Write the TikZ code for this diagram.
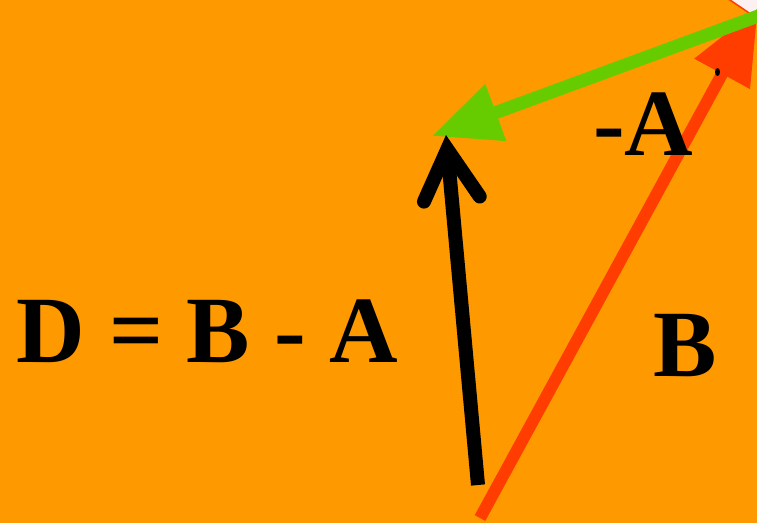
\documentclass[tikz,border=0pt]{standalone}
\usepackage{fontspec}
\setmainfont{Liberation Serif}
\usetikzlibrary{arrows.meta}
\definecolor{bgorange}{RGB}{255,153,0}
\definecolor{vecgreen}{RGB}{102,204,0}
\definecolor{vecred}{RGB}{255,61,0}
\definecolor{paper}{RGB}{252,240,240}
\tikzset{
  green vec/.style={-{Triangle[length=68pt,width=57pt]},line width=13pt,draw=vecgreen},
  red vec/.style={-{Triangle[length=75pt,width=60pt]},line width=12pt,draw=vecred},
  black vec/.style={-{Straight Barb[length=50pt,width=56pt,line cap=round,line join=miter]},line width=14pt,draw=black},
  biglabel/.style={font=\fontsize{95}{110}\selectfont\bfseries,anchor=base west,inner sep=0pt}
}

\begin{document}
\begin{tikzpicture}[x=1pt,y=-1pt]
  \useasboundingbox (0,0) rectangle (757,523);
  \fill[bgorange] (0,0) rectangle (757,523);

  % corner of the sheet behind
  \filldraw[fill=paper,draw=vecred,line width=1.5pt] (727,-2) -- (764,23) -- (764,-2) -- cycle;

  \coordinate (btail) at (480,518);
  \coordinate (btip) at (758,8);
  \coordinate (atail) at (780,8);
  \coordinate (atip) at (432,136);
  \coordinate (dtail) at (478,485);
  \coordinate (dtip) at (446,135);

  \draw[red vec] (btail) -- (btip);
  \fill[black] (717.5,72) ellipse (2.5 and 4);
  \draw[green vec] (atail) -- (atip);
  \draw[black vec] (dtail) -- (dtip);

  \node[biglabel] (eq) at (16.5,362) {D = B{} - A};
  \node[biglabel] (minusa) at (593,155) {-A};
  \node[biglabel] (bname) at (653.5,376) {B};
\end{tikzpicture}
\end{document}
